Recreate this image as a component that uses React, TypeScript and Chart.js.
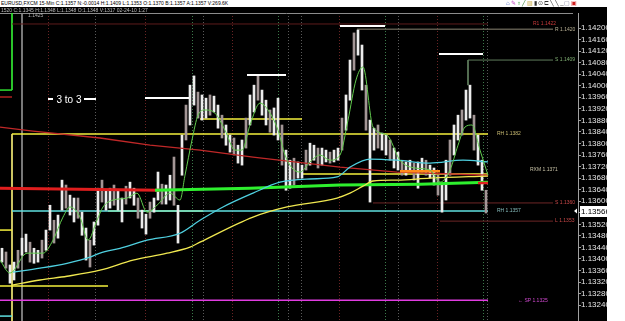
import { useEffect, useRef } from "react";
import { Chart, registerables } from "chart.js";
Chart.register(...registerables);

// ---------- header texts ----------
const symbolHeader = "EURUSD,FXCM 15-Min C:1.1357 N:-0.0014 H:1.1409 L:1.1353 O:1.1370 B:1.1357 A:1.1357 V:269.6K";
const subHeader = "1520 C:1.1345 H:1.1348 L:1.1348 O:1.1348 V:1317 02-24-10 1:27";
const cursorLabel = "1.1425";

// ---------- axis ----------
const yTicks = [1.142, 1.1416, 1.1412, 1.1408, 1.1404, 1.14, 1.1396, 1.1392, 1.1388, 1.1384, 1.138, 1.1376, 1.1372, 1.1368, 1.1364, 1.136, 1.1356, 1.1352, 1.1348, 1.1344, 1.134, 1.1336, 1.1332, 1.1328, 1.1324];
const Y_MAX = 1.14252;
const Y_MIN = 1.13185;
const X_MAX = 144.5;
const lastPrice = 1.13566;

// ---------- price bars (high / low), one per bar index ----------
const barHigh = [
  1.13437, 1.13424, 1.13379, 1.13389, 1.1343, 1.13472, 1.13486, 1.13458, 1.13437, 1.1343,
  1.13465, 1.135, 1.13586, 1.13534, 1.13552, 1.13673, 1.13656, 1.13621, 1.13611, 1.13611,
  1.13562, 1.13507, 1.13465, 1.13528, 1.13645, 1.13673, 1.13638, 1.13645, 1.13656, 1.13638,
  1.13611, 1.13652, 1.13666, 1.13645, 1.13611, 1.13569, 1.13555, 1.13597, 1.13611, 1.13701,
  1.13659, 1.13656, 1.1369, 1.13753, 1.13586, 1.13829, 1.13933, 1.14002, 1.14034, 1.13978,
  1.13968, 1.13957, 1.13968, 1.13964, 1.13933, 1.13898, 1.13864, 1.13829, 1.13819, 1.13794,
  1.13812, 1.13888, 1.13968, 1.14002, 1.14034, 1.13985, 1.1395, 1.13916, 1.13923, 1.13957,
  1.13864, 1.13777, 1.13742, 1.13749, 1.13736, 1.13725, 1.13777, 1.13801, 1.13794, 1.13784,
  1.13784, 1.13777, 1.1377, 1.13777, 1.13784, 1.13888, 1.13968, 1.14089, 1.14183, 1.14193,
  1.14141, 1.14002, 1.13881, 1.13853, 1.13864, 1.13836, 1.13829, 1.13812, 1.13784, 1.1377,
  1.13742, 1.13736, 1.13742, 1.13732, 1.13736, 1.13749, 1.13742, 1.13725, 1.13715, 1.1369,
  1.13656, 1.13742, 1.13812, 1.13864, 1.13898, 1.13916, 1.13985, 1.14002, 1.13898, 1.13829,
  1.13742, 1.13638,
];
const barLow = [
  1.13389, 1.13368, 1.13316, 1.13327, 1.13368, 1.13413, 1.13424, 1.13389, 1.13385, 1.13389,
  1.13403, 1.1343, 1.135, 1.13455, 1.13472, 1.13569, 1.13576, 1.13552, 1.13528, 1.13541,
  1.13482, 1.13396, 1.13372, 1.13448, 1.13517, 1.13597, 1.13569, 1.13576, 1.13586, 1.13569,
  1.13528, 1.1359, 1.13611, 1.13586, 1.13541, 1.13507, 1.13486, 1.13541, 1.13562, 1.13604,
  1.1359, 1.1359, 1.13604, 1.13586, 1.13455, 1.1369, 1.13812, 1.13864, 1.13933, 1.13888,
  1.13881, 1.13888, 1.13898, 1.13909, 1.13853, 1.13819, 1.13794, 1.1377, 1.1376, 1.13732,
  1.13725, 1.13784, 1.13864, 1.13909, 1.1395, 1.13898, 1.13864, 1.13839, 1.13829, 1.13812,
  1.13725, 1.13638, 1.13645, 1.13656, 1.1368, 1.1368, 1.13708, 1.13725, 1.13742, 1.13715,
  1.13725, 1.13736, 1.13732, 1.13736, 1.13742, 1.13777, 1.13846, 1.1395, 1.14054, 1.14106,
  1.13985, 1.13846, 1.13597, 1.13777, 1.13784, 1.13777, 1.1376, 1.13742, 1.13715, 1.13708,
  1.1369, 1.1369, 1.13701, 1.13673, 1.13645, 1.13701, 1.1369, 1.1368, 1.13656, 1.13621,
  1.13562, 1.13604, 1.1369, 1.1376, 1.13812, 1.13829, 1.13881, 1.13888, 1.13777, 1.13725,
  1.13638, 1.13559,
];

// ---------- moving averages (bar position, price) ----------
const emaFastX = [0, 2.5, 6.75, 10.75, 13.25, 15.75, 17.5, 20, 22, 24.25, 25.75, 28.25, 31.75, 34.25, 36.75, 39.25, 42.5, 45, 46.25, 48, 49.5, 51.25, 53.75, 56.25, 58.75, 60.5, 62.5, 65, 67, 69.5, 71.25, 73, 75, 77.5, 80, 82.5, 85, 87, 89, 90.75, 93.25, 96.75, 100, 103.75, 107.5, 110, 112.5, 114.5, 116.25, 118, 120, 122];
const emaFast = [1.13396, 1.13351, 1.1342, 1.1342, 1.13465, 1.13545, 1.1358, 1.13545, 1.13465, 1.13534, 1.1358, 1.13604, 1.13611, 1.13628, 1.13562, 1.13586, 1.13628, 1.13604, 1.1369, 1.13812, 1.13898, 1.13916, 1.13905, 1.13846, 1.13777, 1.13777, 1.13864, 1.1394, 1.13916, 1.13846, 1.1376, 1.13715, 1.13701, 1.13736, 1.1376, 1.13742, 1.1376, 1.13881, 1.1402, 1.14065, 1.13857, 1.13829, 1.13742, 1.13715, 1.13708, 1.13666, 1.13708, 1.13794, 1.13857, 1.13864, 1.13777, 1.1369];

const emaMidX = [3.25, 10, 16.75, 22.5, 25, 30, 36.75, 45, 50, 55.75, 63.25, 70, 77.5, 84.25, 87.5, 92.5, 99.25, 107.5, 115.75, 122];
const emaMid = [1.13354, 1.13368, 1.13385, 1.13406, 1.1342, 1.13437, 1.13465, 1.13489, 1.13534, 1.1358, 1.13628, 1.13666, 1.13677, 1.13684, 1.13718, 1.13746, 1.13742, 1.13732, 1.13742, 1.13736];

const emaSlowX = [3, 10, 16.75, 25, 33.25, 41.75, 47.5, 50, 63.25, 71.75, 84.25, 87.5, 90.75, 93.25, 99.25, 107.5, 122];
const emaSlow = [1.13309, 1.13327, 1.1334, 1.13361, 1.13396, 1.1342, 1.13441, 1.13458, 1.13545, 1.1358, 1.13611, 1.13628, 1.13652, 1.1367, 1.13673, 1.1368, 1.13687];

const smaRedX = [0, 8.25, 25, 37.5, 50, 63.25, 85, 99.25, 122];
const smaRed = [1.13857, 1.13843, 1.13819, 1.13794, 1.13777, 1.13753, 1.13718, 1.13701, 1.1369];

const pivotRedX = [0, 40];
const pivotRed = [1.13645, 1.13638];
const pivotGreenX = [38.75, 62.5, 85, 105, 122];
const pivotGreen = [1.13638, 1.13645, 1.13656, 1.13659, 1.13666];

// ---------- labelled levels ----------
const levelNames = ["R1 1.1422", "R 1.1420", "S 1.1409", "RH 1.1382", "RXM 1.1371", "S 1.1360", "RH 1.1357", "L 1.1353", "\u2190 SP 1.1325"];
const levelPrices = [1.14214, 1.14196, 1.14089, 1.13833, 1.13708, 1.13594, 1.13566, 1.13531, 1.13257];
const levelStart = [3, 89.25, 117, 3, null, 93.25, 3, 110, 0];
const levelEnd = [122, 138.25, 138.25, 122, null, 138.25, 122, 138.25, 122];
const levelLabelX = [133.25, 138.75, 138.75, 124.25, 132.5, 138.75, 124.25, 138.75, 129.5];

// ---------- other horizontal segments ----------
const hSegStart = [50, 75.5, 0, 0, 27, 100, 119.5, 0, 0, 0];
const hSegEnd = [75.5, 122, 27, 3, 50.75, 110, 122, 3, 3, 3];
const hSegPrice = [1.13885, 1.13694, 1.13306, 1.135, 1.13566, 1.13704, 1.13663, 1.13985, 1.13961, 1.13202];

// ---------- vertical segments ----------
const vSegX = [3, 3, 5.5, 117];
const vSegTop = [1.13833, 1.14252, 1.14252, 1.14089];
const vSegBottom = [1.13185, 1.13985, 1.13185, 1.14002];

// ---------- day separators ----------
const sepX = [12, 23.75, 36.25, 48, 50.75, 58, 69.5, 72, 75.25, 84.75, 96.25, 99.5, 109.25, 120.75, 121.75];
const sepKind = [0, 2, 0, 1, 2, 0, 1, 2, 2, 0, 1, 2, 0, 1, 2];

// ---------- white target bars & note ----------
const markStart = [12, 21, 36.25, 61.75, 85, 109.75];
const markEnd = [13.25, 24, 47.25, 71.5, 96.25, 120.75];
const markPrice = [1.13954, 1.13954, 1.13957, 1.14037, 1.14207, 1.1411];
const noteText = "3 to 3";
const noteX = 17.25;
const notePrice = 1.13954;

const levelLineColors = ["#5e1c1c", "#8a8472", "#5f7d5c", "#f5f03c", "", "#6e2626", "#5fe0e0", "#6e2626", "#e03ce0"];
const levelLineWidths = [1, 1, 1, 1.5, 0, 1, 1.5, 1, 1.5];
const levelLabelColors = ["#c83a3a", "#b8b094", "#7fae72", "#c9bb72", "#c8c2a6", "#c84848", "#86bcbc", "#c84848", "#d048d0"];
const hSegColors = ["#f5f03c", "#f5f03c", "#f5f03c", "#f5f03c", "#f5f03c", "#ff8c1a", "#e02020", "#30e030", "#b02020", "#5fe0e0"];
const hSegWidths = [1.5, 1.5, 1.5, 1.5, 1.5, 2.5, 2.5, 1.5, 1.5, 1.5];
const vSegColors = ["#e8e070", "#30e030", "#8a8a8a", "#5f7d5c"];
const sepColors = ["#6a2424", "#3c7a4a", "#5a5a5a"];
const axisFont = "'Liberation Sans', Arial, sans-serif";

export default function App() {
  const canvasRef = useRef<HTMLCanvasElement | null>(null);

  useEffect(() => {
    document.body.style.margin = "0";
    const canvas = canvasRef.current;
    if (!canvas) return;

    const mk = (xs: number[], ys: number[], color: string, width: number, order: number, extra: any = {}) => ({
      type: "line",
      data: xs.map((x, i) => ({ x, y: ys[i] })),
      borderColor: color,
      borderWidth: width,
      pointRadius: 0,
      fill: false,
      order,
      ...extra,
    });

    const datasets: any[] = [];
    levelPrices.forEach((p, i) => {
      const s = levelStart[i];
      const e = levelEnd[i];
      if (s === null || e === null) return;
      datasets.push(mk([s, e], [p, p], levelLineColors[i], levelLineWidths[i], 30));
    });
    hSegPrice.forEach((p, i) => {
      datasets.push(mk([hSegStart[i], hSegEnd[i]], [p, p], hSegColors[i], hSegWidths[i], i >= 5 && i <= 6 ? 5 : 30));
    });
    vSegX.forEach((x, i) => {
      datasets.push(mk([x, x], [vSegTop[i], vSegBottom[i]], vSegColors[i], 1, 30));
    });
    datasets.push({
      type: "bar",
      data: barLow.map((l, i) => ({ x: i + 0.5, y: [l, barHigh[i]] })),
      backgroundColor: barLow.map((_, i) => (i % 3 === 1 ? "#a39696" : "#ececec")),
      borderWidth: 0,
      barThickness: 2,
      order: 10,
    });
    datasets.push(mk(pivotRedX, pivotRed, "#e01e1e", 3, 8));
    datasets.push(mk(pivotGreenX, pivotGreen, "#2ef02e", 3, 7));
    datasets.push(mk(smaRedX, smaRed, "#c02828", 1.3, 6));
    datasets.push(mk(emaSlowX, emaSlow, "#f0e850", 1.3, 4, { cubicInterpolationMode: "monotone" }));
    datasets.push(mk(emaMidX, emaMid, "#4fd0e0", 1.3, 3, { cubicInterpolationMode: "monotone" }));
    datasets.push(mk(emaFastX, emaFast, "#62cc4e", 1, 1, { cubicInterpolationMode: "monotone" }));

    const overlay = {
      id: "overlay",
      beforeDatasetsDraw(chart: any) {
        const { ctx, chartArea, scales } = chart;
        const xs = scales.x;
        ctx.save();
        ctx.lineWidth = 1;
        sepX.forEach((v, i) => {
          const px = Math.round(xs.getPixelForValue(v)) + 0.5;
          ctx.strokeStyle = sepColors[sepKind[i]];
          ctx.setLineDash([1, 2]);
          ctx.beginPath();
          ctx.moveTo(px, chartArea.top);
          ctx.lineTo(px, chartArea.bottom);
          ctx.stroke();
        });
        ctx.setLineDash([]);
        ctx.strokeStyle = "#8c8c8c";
        ctx.beginPath();
        ctx.moveTo(0, chartArea.top + 0.5);
        ctx.lineTo(chartArea.right - 5, chartArea.top + 0.5);
        ctx.stroke();
        ctx.restore();
      },
      afterDatasetsDraw(chart: any) {
        const { ctx, chartArea, scales } = chart;
        const xs = scales.x;
        const ys = scales.y;
        ctx.save();
        // white target bars
        ctx.strokeStyle = "#ffffff";
        ctx.lineWidth = 2;
        markStart.forEach((s, i) => {
          const y = Math.round(ys.getPixelForValue(markPrice[i]));
          ctx.beginPath();
          ctx.moveTo(xs.getPixelForValue(s), y);
          ctx.lineTo(xs.getPixelForValue(markEnd[i]), y);
          ctx.stroke();
        });
        // note
        ctx.fillStyle = "#ffffff";
        ctx.font = "10px 'Liberation Sans', Arial, sans-serif";
        ctx.textAlign = "center";
        ctx.textBaseline = "middle";
        ctx.fillText(noteText, xs.getPixelForValue(noteX), ys.getPixelForValue(notePrice) + 1);
        // level labels
        ctx.font = "5px 'Liberation Sans', Arial, sans-serif";
        ctx.textAlign = "left";
        levelNames.forEach((n, i) => {
          ctx.fillStyle = levelLabelColors[i];
          ctx.fillText(n, xs.getPixelForValue(levelLabelX[i]), ys.getPixelForValue(levelPrices[i]));
        });
        // cursor label
        ctx.fillStyle = "#b0b0b0";
        ctx.fillText(cursorLabel, xs.getPixelForValue(7), chartArea.top + 3);
        // current price box
        const py = Math.round(ys.getPixelForValue(lastPrice));
        const bx = chartArea.right + 2;
        ctx.fillStyle = "#ffffff";
        ctx.fillRect(bx, py - 5, 40, 11);
        ctx.beginPath();
        ctx.moveTo(chartArea.right - 4, py);
        ctx.lineTo(chartArea.right - 1, py - 2.5);
        ctx.lineTo(chartArea.right - 1, py + 2.5);
        ctx.closePath();
        ctx.fill();
        ctx.fillStyle = "#000000";
        ctx.font = "8px " + axisFont;
        ctx.fillText(lastPrice.toFixed(5), bx + 1, py + 0.5);
        ctx.restore();
      },
    };

    const chart = new Chart(canvas, {
      type: "bar",
      data: { datasets },
      options: {
        animation: false,
        responsive: false,
        maintainAspectRatio: false,
        layout: { padding: { left: 0, right: 0, top: 13, bottom: 0 } },
        plugins: { legend: { display: false }, tooltip: { enabled: false } },
        scales: {
          x: { type: "linear", min: 0, max: X_MAX, display: false, offset: false },
          y: {
            position: "right",
            min: Y_MIN,
            max: Y_MAX,
            afterFit: (s: any) => {
              s.width = 47;
              s.paddingTop = 0;
              s.paddingBottom = 0;
            },
            afterBuildTicks: (s: any) => {
              s.ticks = yTicks.map((v) => ({ value: v }));
            },
            ticks: {
              autoSkip: false,
              color: "#e6e6e6",
              padding: 0,
              font: { size: 8, family: axisFont },
              callback: (v: any) => Number(v).toFixed(5),
            },
            grid: { drawOnChartArea: false, color: "#a0a0a0", tickLength: 3 },
            border: { color: "#a0a0a0" },
          },
        },
      } as any,
      plugins: [overlay],
    } as any);
    return () => chart.destroy();
  }, []);

  return (
    <div style={{ position: "relative", width: 625, height: 321, background: "#000", overflow: "hidden", fontFamily: "'Liberation Sans', Arial, sans-serif" }}>
      <canvas ref={canvasRef} width={625} height={321} style={{ position: "absolute", left: 0, top: 0, width: 625, height: 321 }} />
      <div style={{ position: "absolute", left: 0, top: 0, width: 625, height: 7, background: "#fff", color: "#000", fontSize: 5, lineHeight: "7px", whiteSpace: "nowrap", paddingLeft: 1 }}>
        {symbolHeader}
        <span style={{ position: "absolute", left: 506, top: 0, fontSize: 6, lineHeight: "7px", letterSpacing: 1 }}>
          <span style={{ color: "#3050c0" }}>⌂</span>
          <span style={{ color: "#c050c0" }}>✎</span>
          <span style={{ color: "#30a030" }}>♆</span>
          <span style={{ color: "#308030" }}>╱</span>
          <span style={{ color: "#c0a030" }}>▥</span>
          <span style={{ color: "#303030" }}>▮</span>
          <span style={{ color: "#303030" }}>⊙</span>
          <span style={{ color: "#303030" }}>⊏</span>
          <span style={{ color: "#303030" }}>╲</span>
          <span style={{ color: "#303030" }}>╲</span>
          <span style={{ color: "#303030" }}>_</span>
          <span style={{ color: "#8080a0" }}>▢</span>
          <span style={{ color: "#d02020" }}>▣</span>
        </span>
      </div>
      <div style={{ position: "absolute", left: 1, top: 7, height: 6, color: "#bdbdbd", fontSize: 5, lineHeight: "6px", whiteSpace: "nowrap" }}>{subHeader}</div>
      <div style={{ position: "absolute", left: 607, top: 0, width: 18, height: 321, background: "#fff" }} />
    </div>
  );
}
